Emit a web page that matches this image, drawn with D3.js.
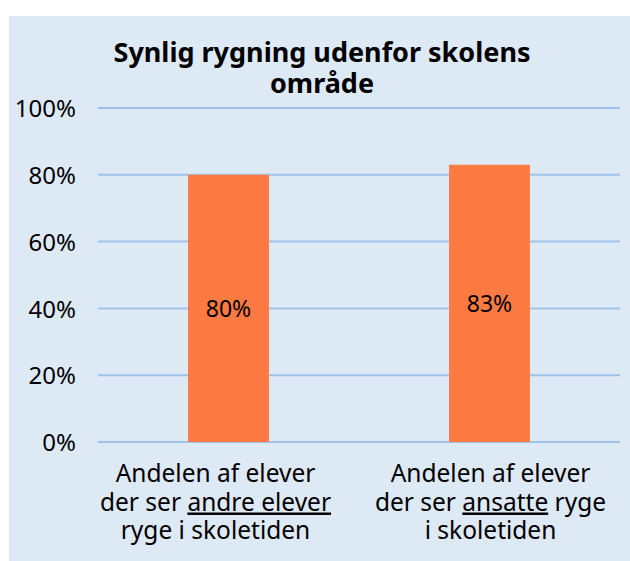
<!DOCTYPE html>
<html>
<head>
<meta charset="utf-8">
<script src="https://cdn.jsdelivr.net/npm/d3@7"></script>
<style>
  body { margin: 0; background: #fff; }
  svg text { font-family: "Noto Sans", sans-serif; }
</style>
</head>
<body>
<div id="chart"></div>
<script>
var width = 630,
    height = 561;

// data
var categories = ["andre", "ansatte"];
var values = [0.80, 0.83];
var valueLabels = ["80%", "83%"];
var yTicks = [0, 0.2, 0.4, 0.6, 0.8, 1.0];
// each label line is a list of [text, underlined]
var categoryLines = [
  [[["Andelen af elever", false]],
   [["der ser ", false], ["andre elever", true]],
   [["ryge i skoletiden", false]]],
  [[["Andelen af elever", false]],
   [["der ser ", false], ["ansatte", true], [" ryge", false]],
   [["i skoletiden", false]]]
];
var labelShift = [-13, 1];
var titleLines = ["Synlig rygning udenfor skolens", "område"];

var svg = d3.select("#chart").append("svg")
    .attr("width", width)
    .attr("height", height);

svg.append("rect")
    .attr("x", 9).attr("y", 16)
    .attr("width", width - 9).attr("height", height - 16)
    .attr("fill", "#dde9f5");

var x = d3.scaleBand()
    .domain(categories)
    .range([98, 620])
    .paddingInner(0.69)
    .paddingOuter(0.345);

var y = d3.scaleLinear()
    .domain([0, 1])
    .range([442, 108]);

// gridlines
svg.append("g").selectAll("line")
    .data(yTicks)
    .enter().append("line")
    .attr("x1", 98).attr("x2", 620)
    .attr("y1", function(d) { return y(d); })
    .attr("y2", function(d) { return y(d); })
    .attr("stroke", "#9fc3e7")
    .attr("stroke-width", 2);

// y axis labels
var yAxis = d3.axisLeft(y)
    .tickValues(yTicks)
    .tickFormat(d3.format(".0%"))
    .tickSize(0)
    .tickPadding(0);

var ya = svg.append("g")
    .attr("transform", "translate(76,0)")
    .call(yAxis);
ya.select(".domain").remove();
ya.selectAll("text")
    .attr("font-size", 24)
    .attr("fill", "#000")
    .attr("dy", "0.36em")
    .style("font-family", "'Noto Sans', sans-serif");

// bars
svg.append("g").selectAll("rect")
    .data(values)
    .enter().append("rect")
    .attr("x", function(d, i) { return x(categories[i]); })
    .attr("y", function(d) { return y(d); })
    .attr("width", x.bandwidth())
    .attr("height", function(d) { return y(0) - y(d); })
    .attr("fill", "#fe7a43");

svg.append("g").selectAll("text")
    .data(values)
    .enter().append("text")
    .attr("x", function(d, i) { return x(categories[i]) + x.bandwidth() / 2; })
    .attr("y", function(d) { return (y(d) + y(0)) / 2; })
    .attr("dy", "0.36em")
    .attr("text-anchor", "middle")
    .attr("font-size", 23)
    .text(function(d, i) { return valueLabels[i]; });

// category labels
categories.forEach(function(c, i) {
  var cx = x(c) + x.bandwidth() / 2 + labelShift[i];
  var t = svg.append("text")
      .attr("text-anchor", "middle")
      .attr("font-size", 24.5);
  categoryLines[i].forEach(function(line, j) {
    line.forEach(function(part, k) {
      var s = t.append("tspan").text(part[0]);
      if (k == 0) s.attr("x", cx).attr("y", 482 + j * 28.5);
      if (part[1]) s.style("text-decoration", "underline");
    });
  });
});

// title
svg.append("g").selectAll("text")
    .data(titleLines)
    .enter().append("text")
    .attr("x", 322)
    .attr("y", function(d, i) { return 62 + i * 31; })
    .attr("text-anchor", "middle")
    .attr("font-size", 27)
    .attr("font-weight", "bold")
    .text(function(d) { return d; });
</script>
</body>
</html>
